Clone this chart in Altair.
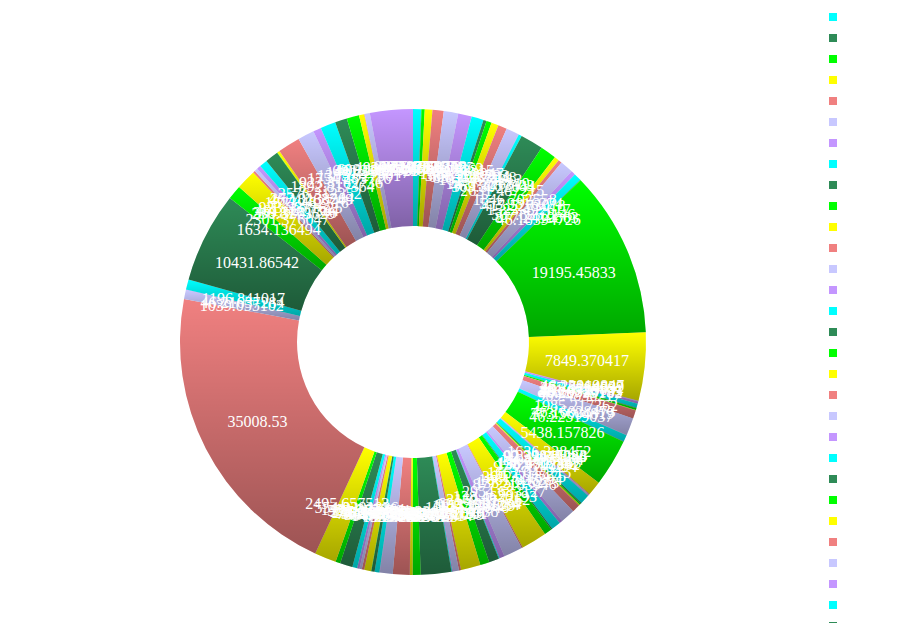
import altair as alt
import pandas as pd

# slice values in drawing order (clockwise from 12 o'clock)
values = [
    923.3184127, 46.21837452, 369.2751604, 877.1953318, 1292.663075, 1662.013862, 1569.728315,
    1384.962047, 369.4182733, 600.1587211, 831.0263948, 1015.674213, 1477.326819, 46.15287303,
    369.3072644, 2631.487215, 1846.702558, 553.9816274, 415.5273018, 1523.492617, 507.8352146,
    877.2419863, 46.18394726, 19195.45833, 7849.370417, 46.23019847, 46.17264039,
    277.0184592, 461.6725831, 46.19820735, 230.8347195, 46.20739182, 969.4836217, 1985.217362,
    46.16028473, 773.5604819, 46.22519037, 5438.157826, 1636.338452, 92.31847263, 92.35019284,
    92.29471036, 1108.017364, 138.4927163, 138.5302847, 138.4718362, 923.3510294, 1662.047215,
    369.3218475, 1061.826394, 138.5016273, 877.2183946, 2954.683127, 138.4620193, 2169.817362,
    600.1937264, 92.33610284, 1154.173629, 1061.792846, 2262.214738, 230.8261937, 692.5037281,
    92.30172846, 92.32761039, 3508.692714, 923.3027163, 323.1692845, 1939.027361, 1477.318274,
    46.17836205, 554.0172634, 369.3362819, 46.19372615, 784.8136274, 277.0293618, 276.9827364,
    277.0418273, 553.9726381, 1431.207364, 554.0391826, 2495.657513, 35008.53, 1039.055102,
    46.21637284, 1196.841017, 10431.86542, 1634.136494, 2301.376047, 230.8173629, 369.3281746,
    461.6627384, 923.3371625, 1523.482716, 46.18263749, 277.0138264, 2576.312352, 1892.817364,
    923.3182736, 1754.283716, 1385.027361, 1431.193847, 600.2183746, 46.20381726, 600.1827364,
    4939.817263,
]

palette = ["#00ffff", "#2e8b57", "#00ff00", "#ffff00", "#f08080", "#c8c8ff", "#c496ff"]

df = pd.DataFrame({"idx": list(range(len(values))), "value": values})

base = alt.Chart(df).transform_calculate(label="toString(datum.value)")

theta = alt.Theta("value:Q", stack=True)
order = alt.Order("idx:Q", sort="ascending")

arcs = base.mark_arc(innerRadius=116, outerRadius=233).encode(
    theta=theta,
    order=order,
    color=alt.Color(
        "idx:O",
        scale=alt.Scale(range=palette),
        legend=alt.Legend(
            title=None,
            orient="none",
            legendX=825,
            legendY=9,
            symbolType="square",
            symbolSize=64,
            symbolStrokeWidth=0,
            labelColor="white",
            labelFontSize=16,
            rowPadding=5,
            symbolLimit=200,
        ),
    ),
    x=alt.value(413),
    y=alt.value(342),
)

shade = base.mark_arc(
    innerRadius=116,
    outerRadius=233,
    color=alt.Gradient(
        gradient="linear",
        stops=[
            alt.GradientStop(color="rgba(0,0,0,0)", offset=0),
            alt.GradientStop(color="rgba(0,0,0,0.35)", offset=1),
        ],
        x1=0, x2=0, y1=0, y2=1,
    ),
).encode(theta=theta, order=order, x=alt.value(413), y=alt.value(342))

labels = base.mark_text(
    radius=175, font="Liberation Serif", fontSize=16, color="white"
).encode(
    theta=theta, order=order, text="label:N", x=alt.value(413), y=alt.value(342)
)

chart = (
    alt.layer(arcs, shade, labels)
    .properties(
        width=911,
        height=623,
        padding=0,
        background="white",
        autosize=alt.AutoSizeParams(type="none"),
    )
    .configure_view(stroke=None)
)

chart.save("out.html", embed_options={"renderer": "svg", "actions": False})
